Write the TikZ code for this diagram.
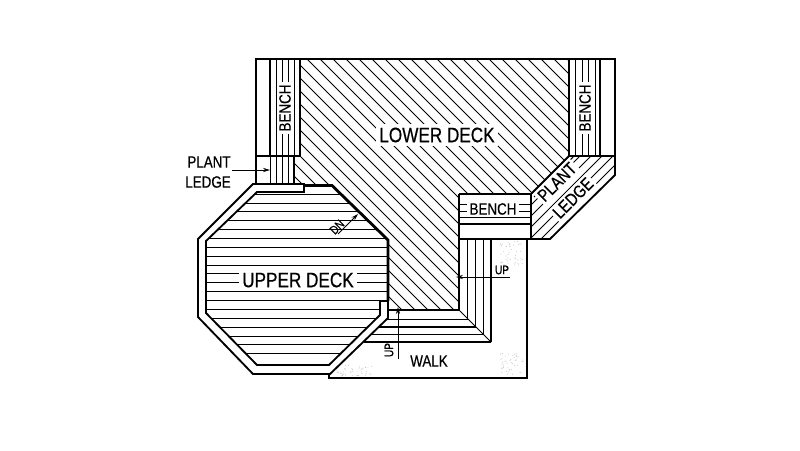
\documentclass[tikz,border=0pt]{standalone}
\usepackage{fontspec}
\usetikzlibrary{arrows.meta}
\newfontfamily\planfont[FakeStretch=0.82,FakeBold=0.5]{Liberation Sans}

\tikzset{
    wall/.style={line width=1.05pt, line join=miter},
    heavy/.style={line width=1.6pt},
    board/.style={line width=0.42pt, color=black},
    leader/.style={line width=0.45pt, -{Stealth[length=4pt,width=2.4pt]}},
    biglabel/.style={font=\planfont\fontsize{11.9}{12}\selectfont, fill=white, inner sep=2pt},
    midlabel/.style={font=\planfont\fontsize{9.3}{10}\selectfont, fill=white, inner sep=1.5pt},
    ledgelabel/.style={font=\planfont\fontsize{10}{11}\selectfont, fill=white, inner sep=1.2pt},
    smalllabel/.style={font=\planfont\fontsize{7}{8}\selectfont, inner sep=0.5pt},
}

\begin{document}
\begin{tikzpicture}[x=0.02cm, y=-0.02cm]
    \useasboundingbox (0,0) rectangle (800,450);

    \def \lowerdeck {(300,59) -- (569,59) -- (569,156) -- (531,194) -- (459,194) -- (459,310) -- (388,310) -- (388,240) -- (332,186) -- (294,186) -- (294,156) -- (300,156) -- cycle}
    \def \upperdeck {(304,186) -- (304,192) -- (257,192) -- (206,241) -- (206,313) -- (257,365) -- (329,365) -- (380,315) -- (380,301) -- (388,301) -- (388,240) -- (332,186) -- cycle}
    \def \ledge {(531,239) -- (550,239) -- (615,175) -- (615,156) -- (569,156) -- (531,194) -- cycle}

    % hatching of the lower deck
    \begin{scope}
        \clip \lowerdeck;
        \foreach \s in {0,...,36}{
            \pgfmathsetmacro{\u}{66 + 13*\s}
            \draw[board] (\u+40,40) -- (\u+340,340);
        };
    \end{scope}

    % boards of the upper deck
    \begin{scope}
        \clip \upperdeck;
        \foreach \s in {0,...,18}{
            \pgfmathsetmacro{\h}{194 + 8.87*\s}
            \draw[board] (200,\h) -- (390,\h);
        };
    \end{scope}

    % hatching of the corner ledge
    \begin{scope}
        \clip \ledge;
        \foreach \s in {0,...,18}{
            \pgfmathsetmacro{\u}{725 + 11*\s}
            \draw[board] (\u-140,140) -- (\u-250,250);
        };
    \end{scope}

    % bench and ledge boards
    \foreach \x in {276,282,288,294}{
        \draw[board] (\x,59) -- (\x,156);
    };
    \foreach \x in {270,276,282,288}{
        \draw[board] (\x,156) -- (\x,184);
    };
    \foreach \x in {575,582,588,595}{
        \draw[board] (\x,59) -- (\x,156);
    };
    \foreach \h in {204,211,217}{
        \draw[board] (459,\h) -- (531,\h);
    };

    % steps
    \foreach \x in {467,475,483}{
        \pgfmathsetmacro{\e}{\x - 149}
        \draw[board] (\x,239) -- (\x,\e);
    };
    \foreach \h in {319,334}{
        \pgfmathsetmacro{\a}{388 - (\h - 318)*1.02}
        \pgfmathsetmacro{\e}{\h + 149}
        \draw[board] (\a,\h) -- (\e,\h);
    };
    \draw[line width=0.7pt] (379,327) -- (476,327);
    \draw[line width=0.7pt] (364,342) -- (491,342);
    \draw[board] (459,310) -- (491,342);

    % stipple on the walk
    \pgfmathsetseed{7}
    \foreach \a/\b/\c/\d in {500/240/23/25, 500/353/25/22, 336/364/36/12}{
        \foreach \i in {1,...,45}{
            \pgfmathsetmacro{\px}{\a + \c*rnd}
            \pgfmathsetmacro{\py}{\b + \d*rnd}
            \fill[black!25] (\px,\py) circle (0.5);
        };
    };

    % outlines
    \draw[wall] (256,184) -- (256,59) -- (615,59) -- (615,156);
    \draw[wall] (270,59) -- (270,156);
    \draw[wall] (256,156) -- (300,156) -- (300,59);
    \draw[wall] (294,156) -- (294,184);
    \draw[wall] (569,59) -- (569,156);
    \draw[wall] (600,59) -- (600,156);
    \draw[wall] (569,156) -- (615,156) -- (615,175) -- (550,239) -- (459,239);
    \draw[wall] (459,194) -- (531,194) -- (569,156);
    \draw[line width=0.6pt] (534,197) -- (573,157);
    \draw[wall] (459,194) -- (459,310) -- (388,310);
    \draw[wall] (459,224) -- (531,224);
    \draw[wall] (531,194) -- (531,239);
    \draw[wall] (491,239) -- (491,342);
    \draw[wall] (329,374) -- (329,378) -- (527,378) -- (527,239);

    % walls of the upper deck
    \draw[wall, fill=white, even odd rule] (253,184) -- (198,239) -- (198,317) -- (253,374) -- (330,374) -- (388,318) -- (388,301) -- (380,301) -- (380,315) -- (329,365) -- (257,365) -- (206,313) -- (206,241) -- (257,192) -- (304,192) -- (304,184) -- cycle;
    \draw[heavy] (304,185.5) -- (332,185.5) -- (388,240) -- (388,301);

    % labels
    \node[biglabel] (lower) at (437,135) {LOWER DECK};
    \node[biglabel] (upper) at (298,280) {UPPER DECK};
    \node[midlabel, rotate=90] (benchleft) at (285,108) {BENCH};
    \node[midlabel, rotate=90] (benchright) at (585,108) {BENCH};
    \node[midlabel] (benchmid) at (493,209) {BENCH};
    \node[midlabel, fill=none] (plantleft) at (209,162) {PLANT};
    \node[midlabel, fill=none] (ledgeleft) at (208,182) {LEDGE};
    \node[ledgelabel, rotate=45] (plantright) at (557,182) {PLANT};
    \node[ledgelabel, rotate=45] (ledgeright) at (573,198) {LEDGE};
    \node[midlabel, fill=none] (walk) at (429,361) {WALK};
    \node[smalllabel] (upright) at (502,270) {UP};
    \node[smalllabel, rotate=90] (upwalk) at (389,350) {UP};
    \node[smalllabel, rotate=45] (down) at (337,227) {DN};

    % leaders
    \coordinate (ledgefoot) at (232,170);
    \coordinate (ledgetip) at (270,170);
    \coordinate (stepfoot) at (510,277);
    \coordinate (steptip) at (456,277);
    \coordinate (walkfoot) at (398,359);
    \coordinate (walktip) at (398,307);
    \coordinate (downfoot) at (338,234);
    \coordinate (downtip) at (358,214);
    \draw[leader] (ledgefoot) -- (ledgetip);
    \draw[leader] (stepfoot) -- (steptip);
    \draw[leader] (walkfoot) -- (walktip);
    \draw[leader] (downfoot) -- (downtip);
\end{tikzpicture}
\end{document}
